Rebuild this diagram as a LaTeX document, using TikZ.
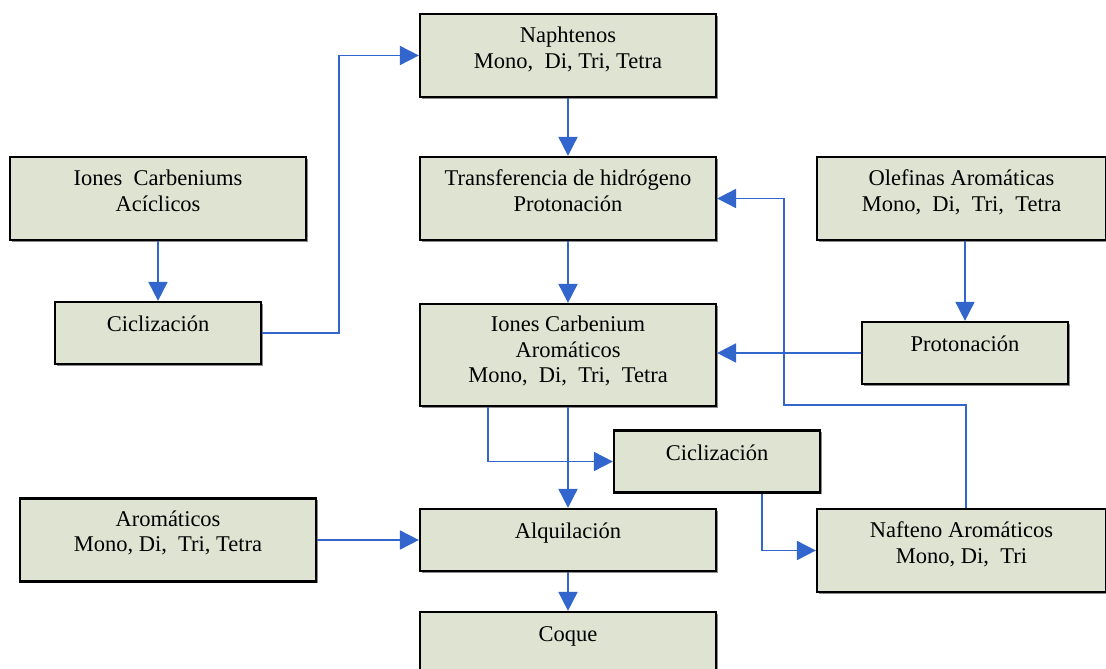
\documentclass[tikz,border=0pt]{standalone}
\usepackage{fontspec}
\setmainfont{Liberation Serif}
\usetikzlibrary{arrows.meta,calc,shadows}
\definecolor{boxfill}{RGB}{223,227,210}
\definecolor{flow}{RGB}{51,102,204}
\tikzset{
  stagebox/.style={draw=black, line width=2.2pt, fill=boxfill, inner sep=0pt,
    drop shadow={shadow xshift=1.6pt, shadow yshift=-1.6pt, fill=black!45, opacity=1}},
  boxtext/.style={anchor=base, align=center, inner sep=0pt,
    font=\fontsize{22.5}{25.5}\selectfont},
  flowline/.style={draw=flow, line width=1.8pt,
    -{Triangle[length=19pt,width=19pt]}},
}
\begin{document}
\begin{tikzpicture}[x=1pt,y=-1pt]
\useasboundingbox (0,0) rectangle (1106,669);

% process boxes
\node[stagebox, minimum width=296pt, minimum height=83pt]  (naph)  at (568,55.5)  {};
\node[stagebox, minimum width=296pt, minimum height=83pt]  (trans) at (568,198.5) {};
\node[stagebox, minimum width=296pt, minimum height=83pt]  (acic)  at (158,198.5) {};
\node[stagebox, minimum width=206pt, minimum height=62pt]  (cicl)  at (158,333)   {};
\node[stagebox, minimum width=289pt, minimum height=83pt]  (olef)  at (961.5,198.5) {};
\node[stagebox, minimum width=296pt, minimum height=102pt] (arom)  at (568,355)   {};
\node[stagebox, minimum width=206pt, minimum height=62pt]  (prot)  at (965,353)   {};
\node[stagebox, minimum width=206pt, minimum height=62pt]  (ciclb) at (717,461.5) {};
\node[stagebox, minimum width=296pt, minimum height=83pt]  (aroms) at (168,540)   {};
\node[stagebox, minimum width=296pt, minimum height=62pt]  (alq)   at (568,540)   {};
\node[stagebox, minimum width=289pt, minimum height=83pt]  (naft)  at (961.5,550.5) {};
\node[stagebox, minimum width=296pt, minimum height=70pt]  (coque) at (568,647)   {};

% box labels (anchored at the baseline of the last line)
\node[boxtext] (naph-t)  at ($(naph.north)+(0,55.5)$)  {Naphtenos\\Mono,\ \ Di, Tri, Tetra};
\node[boxtext] (trans-t) at ($(trans.north)+(0,55.5)$) {Transferencia de hidrógeno\\Protonación};
\node[boxtext] (acic-t)  at ($(acic.north)+(0,55.5)$)  {Iones\ \ Carbeniums\\Acíclicos};
\node[boxtext] (cicl-t)  at ($(cicl.north)+(0,31)$)    {Ciclización};
\node[boxtext] (olef-t)  at ($(olef.north)+(0,55.5)$)  {Olefinas Aromáticas\\Mono,\ \ Di,\ \ Tri,\ \ Tetra};
\node[boxtext] (arom-t)  at ($(arom.north)+(0,80)$)    {Iones Carbenium\\Aromáticos\\Mono,\ \ Di,\ \ Tri,\ \ Tetra};
\node[boxtext] (prot-t)  at ($(prot.north)+(0,31)$)    {Protonación};
\node[boxtext] (ciclb-t) at ($(ciclb.north)+(0,31)$)   {Ciclización};
\node[boxtext] (aroms-t) at ($(aroms.north)+(0,54.5)$) {Aromáticos\\Mono, Di,\ \ Tri, Tetra};
\node[boxtext] (alq-t)   at ($(alq.north)+(0,31)$)     {Alquilación};
\node[boxtext] (naft-t)  at ($(naft.north)+(0,55.5)$)  {Nafteno Aromáticos\\Mono, Di,\ \ Tri};
\node[boxtext] (coque-t) at ($(coque.north)+(0,31)$)   {Coque};

% connectors
\draw[flowline] (naph.south) -- (trans.north);
\draw[flowline] (trans.south) -- (arom.north);
\draw[flowline] (acic.south -| cicl.north) -- (cicl.north);
\draw[flowline] (cicl.east) -- (339,333) |- (naph.west);
\draw[flowline] (olef.south -| prot.north) -- (prot.north);
\draw[flowline] (prot.west) -- (prot.west -| arom.east);
\draw[flowline] (naft.north -| 966,0) -- (966,405) -- (784,405) |- (trans.east);
\draw[flowline] (arom.south -| 488,0) |- (ciclb.west);
\draw[flowline] (arom.south) -- (alq.north);
\draw[flowline] (ciclb.south -| 762,0) |- (naft.west);
\draw[flowline] (aroms.east) -- (alq.west);
\draw[flowline] (alq.south) -- (coque.north);
\end{tikzpicture}
\end{document}
